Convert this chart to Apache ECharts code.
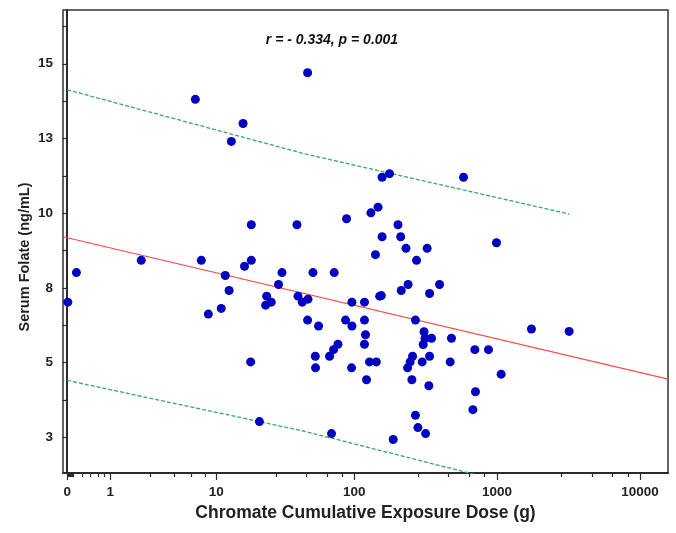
<!DOCTYPE html>
<html>
<head>
<meta charset="utf-8">
<script src="https://cdn.jsdelivr.net/npm/echarts@6/dist/echarts.min.js"></script>
<style>
  html, body { margin: 0; background: #fff; }
  #chart { width: 676px; height: 533px; }
</style>
</head>
<body>
<div id="chart"></div>
<script>
// exposure dose (g) and serum folate (ng/mL)
const dose = [
  0.01, 0.16, 2.29, 6.85, 7.64, 8.67, 10.9, 11.7, 12.5, 15.9,
  13.0, 18.3, 16.3, 18.3, 18.1, 21.0, 23.7, 25.6, 23.3, 28.9,
  30.6, 39.2, 39.9, 42.8, 47.0, 46.7, 46.7, 51.0, 55.9, 66.9,
  69.1, 71.4, 72.2, 76.7, 86.8, 88.2, 96.3, 96.3, 95.7, 118,
  118, 118, 120, 122, 128, 131, 141, 143, 147, 151,
  157, 157, 177, 188, 203, 212, 214, 231, 237, 239,
  247, 257, 254, 269, 269, 274, 280, 300, 305, 309,
  314, 317, 325, 338, 338, 334, 349, 397, 471, 481,
  584, 679, 708, 701, 873, 993, 1070, 1743, 3195, 155,
  53.0, 53.2
];
const folate = [
  7.02, 8.01, 8.42, 13.81, 8.42, 6.62, 6.81, 7.91, 7.41, 13.0,
  12.40, 9.61, 8.22, 8.42, 5.02, 3.02, 7.22, 7.02, 6.92, 7.61,
  8.01, 9.61, 7.22, 7.02, 7.12, 14.70, 6.42, 8.01, 6.22, 5.21,
  2.62, 5.43, 8.01, 5.61, 6.42, 9.81, 7.02, 6.22, 4.82, 7.02,
  6.42, 5.61, 5.93, 4.42, 5.02, 10.01, 8.61, 5.02, 10.20, 7.22,
  11.20, 9.21, 11.32, 2.42, 9.61, 9.21, 7.41, 8.82, 4.82, 7.61,
  5.02, 5.21, 4.42, 6.42, 3.23, 8.42, 2.82, 5.02, 5.60, 6.03,
  5.81, 2.62, 8.82, 5.21, 7.31, 4.22, 5.81, 7.61, 5.02, 5.81,
  11.20, 3.42, 4.02, 5.43, 5.43, 9.01, 4.61, 6.12, 6.04, 7.24,
  5.21, 4.82
];

// fit line and 95% prediction limits, [dose, folate]
const fitLine = [[-0.065, 9.21], [15700, 4.44]];
const upperLimit = [[0, 14.13], [44.95, 11.98], [3195, 9.97]];
const lowerLimit = [[0, 4.40], [44.95, 2.69], [3195, 0.45]];

const xMajor = [0, 1, 10, 100, 1000, 10000];
const xMinorSteps = [2.8, 4.6, 6.4, 8.2];
const xMinorDecades = [0.01, 0.1, 1, 10, 100, 1000];
const yLabels = [2.5, 5, 7.5, 10, 12.5, 15];

// axis is log10(dose + 1)
const tx = d => Math.log10(d + 1);
const toXY = p => [tx(p[0]), p[1]];

const xMin = tx(-0.065);
const xMax = tx(15660);
const yMin = 1.3;
const yMax = 16.8;

const xMinor = [0.1, 0.01];
xMinorDecades.forEach(d => xMinorSteps.forEach(m => xMinor.push(d * m)));

const yTicks = [];
for (let v = 2.5; v <= 16.3; v += 1.25) yTicks.push(v);

const font = '"Liberation Sans", Arial, sans-serif';
const axisColor = '#2b2b2b';

const chart = echarts.init(document.getElementById('chart'));
chart.setOption({
  animation: false,
  backgroundColor: '#fff',
  grid: {
    left: 63, right: 8, top: 10, bottom: 60,
    show: true, borderColor: '#333', borderWidth: 1.5,
    outerBoundsMode: 'none'
  },
  xAxis: [{
    type: 'value', min: xMin, max: xMax, position: 'bottom',
    name: 'Chromate Cumulative Exposure Dose (g)',
    nameLocation: 'middle', nameGap: 30,
    nameTextStyle: { fontFamily: font, fontWeight: 'bold', fontSize: 17.5, color: '#222' },
    axisLine: { lineStyle: { color: axisColor, width: 2 } },
    axisTick: { length: 7, lineStyle: { color: axisColor, width: 1.2 }, customValues: xMajor.map(tx) },
    axisLabel: {
      customValues: xMajor.map(tx), margin: 12,
      fontFamily: font, fontWeight: 'bold', fontSize: 13.5, color: '#222',
      formatter: v => String(Math.round(Math.pow(10, v) - 1))
    },
    splitLine: { show: false }
  }, {
    type: 'value', min: xMin, max: xMax, position: 'bottom',
    axisLine: { show: false },
    axisTick: { length: 4, lineStyle: { color: axisColor, width: 1.2 }, customValues: xMinor.map(tx) },
    axisLabel: { show: false },
    splitLine: { show: false }
  }],
  yAxis: {
    type: 'value', min: yMin, max: yMax,
    axisLine: { show: true, lineStyle: { color: axisColor, width: 2 } },
    axisTick: { show: true, length: 5, lineStyle: { color: axisColor, width: 1.2 }, customValues: yTicks },
    axisLabel: {
      customValues: yLabels, margin: 10,
      fontFamily: font, fontWeight: 'bold', fontSize: 13.5, color: '#222',
      formatter: v => String(Math.round(v))
    },
    splitLine: { show: false }
  },
  graphic: [{
    type: 'text', x: 332, y: 40,
    style: {
      text: 'r = - 0.334, p = 0.001', font: 'italic bold 14px ' + font,
      fill: '#111', align: 'center', verticalAlign: 'middle'
    }
  }, {
    type: 'text', x: 25, y: 257, rotation: Math.PI / 2,
    style: {
      text: 'Serum Folate (ng/mL)', font: 'bold 14.5px ' + font,
      fill: '#222', align: 'center', verticalAlign: 'middle'
    }
  }],
  series: [{
    type: 'line', data: fitLine.map(toXY), symbol: 'none', silent: true,
    lineStyle: { color: '#ff4a4a', width: 1.2 }, z: 2
  }, {
    type: 'line', data: upperLimit.map(toXY), symbol: 'none', silent: true,
    lineStyle: { color: '#3aa865', width: 1.3, type: [4, 2] }, z: 2
  }, {
    type: 'line', data: lowerLimit.map(toXY), symbol: 'none', silent: true,
    lineStyle: { color: '#3aa865', width: 1.3, type: [4, 2] }, z: 2
  }, {
    type: 'scatter', data: dose.map((d, i) => [tx(d), folate[i]]),
    symbolSize: 9, itemStyle: { color: '#0000c0', opacity: 1 }, z: 3
  }]
});
</script>
</body>
</html>
